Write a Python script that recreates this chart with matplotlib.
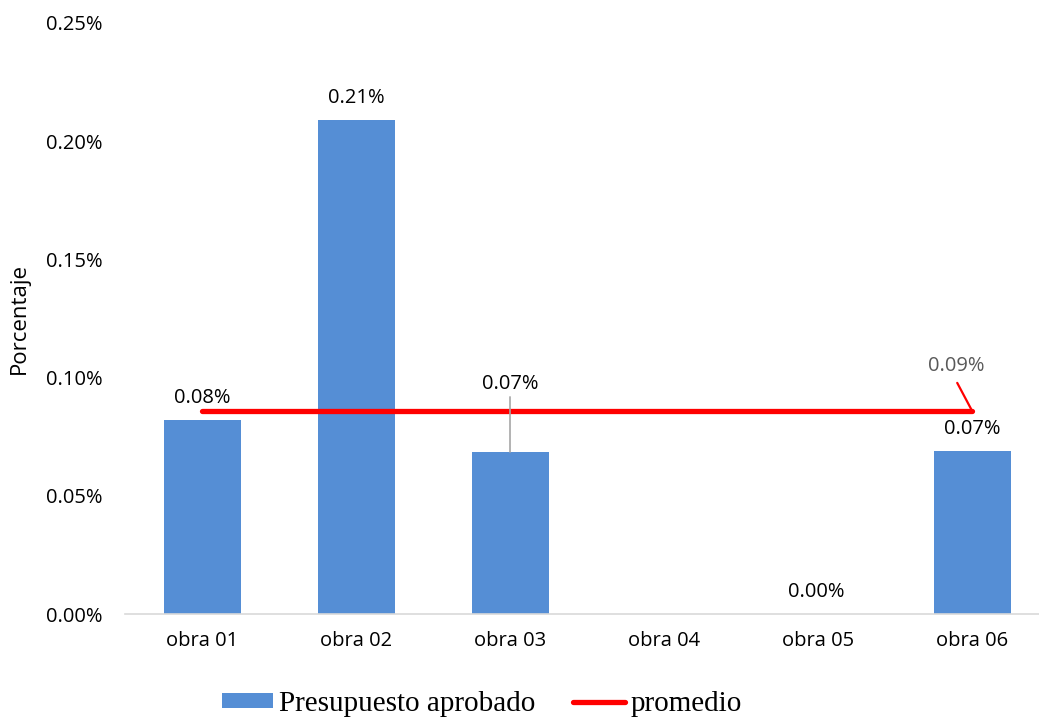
import matplotlib.pyplot as plt
from matplotlib.lines import Line2D
from matplotlib.patches import Patch

obras = ['obra 01', 'obra 02', 'obra 03', 'obra 04', 'obra 05', 'obra 06']
presupuesto = [0.082, 0.209, 0.0685, 0.0, 0.0, 0.069]
promedio = [0.086, 0.086, 0.086, 0.086, 0.086, 0.086]
yticks = [0.0, 0.05, 0.10, 0.15, 0.20, 0.25]

azul = '#558ED5'
rojo = '#FF0000'
fs = 14.5

fig = plt.figure(figsize=(10.39, 7.2), dpi=100)
ax = fig.add_axes([125 / 1039, 106 / 720, (1039 - 125) / 1039, 591 / 720])

x = list(range(len(obras)))
ax.bar(x, presupuesto, width=0.5, color=azul, zorder=2)
ax.plot(x, promedio, color=rojo, linewidth=3.8, solid_capstyle='round', zorder=3)

ax.set_xlim(-0.5, 5.435)
ax.set_ylim(0, 0.25)
ax.set_yticks(yticks)
ax.set_yticklabels(['%.2f%%' % v for v in yticks])
ax.set_xticks(x)
ax.set_xticklabels(obras)
ax.tick_params(length=0, labelsize=fs, colors='#000000', pad=12)
ax.tick_params(axis='y', pad=16)
for lab in ax.get_xticklabels() + ax.get_yticklabels():
    lab.set_family('Open Sans')

for s in ['top', 'right', 'left']:
    ax.spines[s].set_visible(False)
ax.spines['bottom'].set_color('#D9D9D9')
ax.spines['bottom'].set_linewidth(1.2)

ax.set_ylabel('Porcentaje', fontsize=16, family='Open Sans', labelpad=12)

# etiquetas de datos
lbl = dict(ha='center', va='bottom', fontsize=fs, family='Open Sans', color='#000000')
ax.text(0, presupuesto[0] + 0.005, '%.2f%%' % presupuesto[0], **lbl)
ax.text(1, presupuesto[1] + 0.005, '%.2f%%' % presupuesto[1], **lbl)
ax.text(3.99, presupuesto[4] + 0.005, '%.2f%%' % presupuesto[4], **lbl)
ax.text(5, presupuesto[5] + 0.005, '%.2f%%' % presupuesto[5], **lbl)
# obra 03 con línea guía
ax.annotate('%.2f%%' % presupuesto[2], xy=(2, presupuesto[2]), xytext=(2, 0.093),
            ha='center', va='bottom', fontsize=fs, family='Open Sans',
            arrowprops=dict(arrowstyle='-', color='#A6A6A6', lw=1.2,
                            shrinkA=0, shrinkB=0, relpos=(0.5, 0.0)))
# promedio con línea guía
ax.annotate('%.2f%%' % promedio[-1], xy=(5, promedio[-1]), xytext=(4.9, 0.1005),
            ha='center', va='bottom', fontsize=fs, family='Open Sans', color='#595959',
            arrowprops=dict(arrowstyle='-', color=rojo, lw=1.6,
                            shrinkA=3, shrinkB=0, relpos=(0.45, 0.0)))

handles = [Patch(facecolor=azul, edgecolor='none'),
           Line2D([0], [0], color=rojo, linewidth=3.8, solid_capstyle='round')]
fig.legend(handles, ['Presupuesto aprobado', 'promedio'], loc='center',
           bbox_to_anchor=(482 / 1039, 1 - 704 / 720), ncol=2, frameon=False,
           prop={'family': 'Liberation Serif', 'size': 21},
           handlelength=1.75, handletextpad=0.2, columnspacing=1.3,
           handleheight=0.45)

fig.savefig('out.png', dpi=100)
plt.close()
